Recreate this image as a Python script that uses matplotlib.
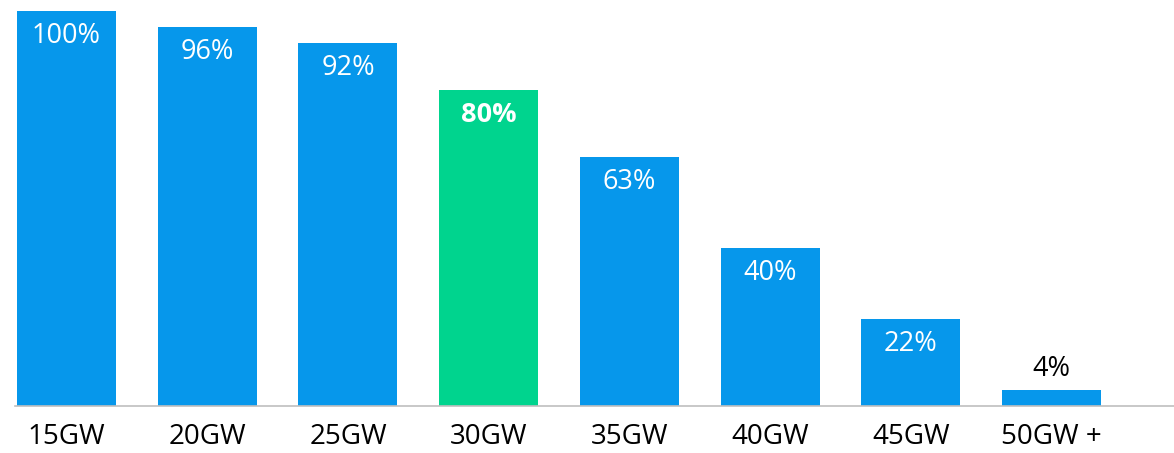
import matplotlib
matplotlib.use("Agg")
import matplotlib.pyplot as plt

categories = ["15GW", "20GW", "25GW", "30GW", "35GW", "40GW", "45GW", "50GW +"]
values = [100, 96, 92, 80, 63, 40, 22, 4]
labels = ["100%", "96%", "92%", "80%", "63%", "40%", "22%", "4%"]
highlight = "30GW"

BLUE = "#0697eb"
GREEN = "#00d48e"

plt.rcParams['font.family'] = ['Open Sans', 'DejaVu Sans']

fig = plt.figure(figsize=(11.74, 4.53), dpi=100)
ax = fig.add_axes([15 / 1174, 47 / 453, (1174 - 15) / 1174, 395 / 453])

x = list(range(len(categories)))
colors = [GREEN if c == highlight else BLUE for c in categories]
ax.bar(x, values, width=0.704, color=colors, zorder=2)

ax.set_xlim(-0.366, 7.87)
ax.set_ylim(0, 100)

for xi, v, lab, c in zip(x, values, labels, categories):
    bold = c == highlight
    if v >= 10:
        ax.annotate(lab, (xi, v), xytext=(0, -18), textcoords="offset points",
                    ha="center", va="center", color="white", fontsize=19.5,
                    fontweight="bold" if bold else "normal")
    else:
        ax.annotate(lab, (xi, v), xytext=(0, 15), textcoords="offset points",
                    ha="center", va="center", color="black", fontsize=19.5)

ax.set_xticks(x)
ax.set_xticklabels(categories, fontsize=20, color="black")
ax.tick_params(axis="x", length=0, pad=12)
ax.set_yticks([])
for s in ["top", "right", "left"]:
    ax.spines[s].set_visible(False)
ax.spines["bottom"].set_color("#bfbfbf")
ax.spines["bottom"].set_linewidth(1.2)

fig.savefig("out.png", dpi=100)
